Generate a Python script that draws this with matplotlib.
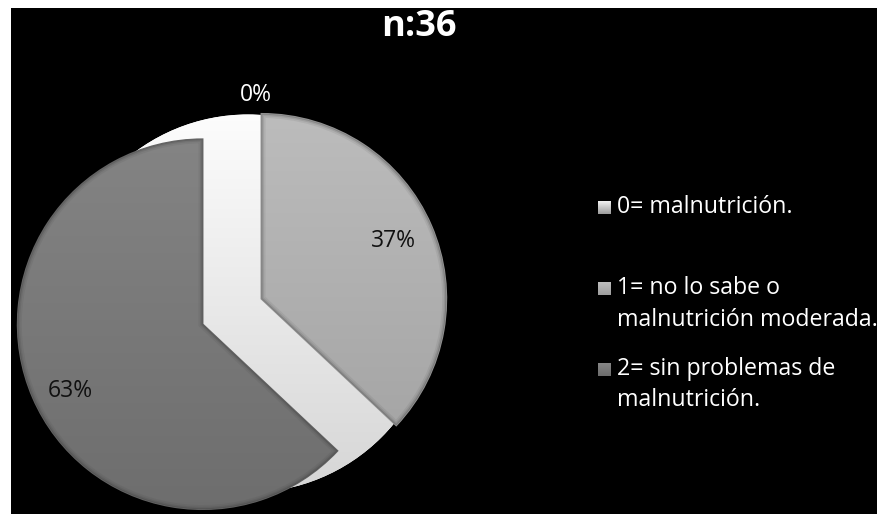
import numpy as np
import matplotlib
matplotlib.use("Agg")
import matplotlib.pyplot as plt
from matplotlib.patches import Rectangle, Circle, Wedge

# ---- data -------------------------------------------------------------
title = "n:36"
categories = [
    "0= malnutrición.",
    "1= no lo sabe o\nmalnutrición moderada.",
    "2= sin problemas de\nmalnutrición.",
]
percentages = [0, 37, 63]

# ---- styling ----------------------------------------------------------
FONT = "Open Sans"
slice_top = ["#ffffff", "#bebebe", "#878787"]
slice_bottom = ["#d4d4d4", "#9e9e9e", "#6c6c6c"]
slice_edge = ["#e0e0e0", "#939393", "#646464"]

W, H = 878, 514
fig = plt.figure(figsize=(W / 100, H / 100), dpi=100, facecolor="white")
ax = fig.add_axes([0, 0, 1, 1])
ax.axis("off")

# black chart panel inside a thin white margin
ax.add_patch(Rectangle((11, 0), W - 11, H - 8, facecolor="black",
                       edgecolor="none", zorder=0))


def gradient_fill(patch, top, bottom, extent, z):
    c0 = np.array(matplotlib.colors.to_rgb(top))
    c1 = np.array(matplotlib.colors.to_rgb(bottom))
    t = np.linspace(0, 1, 256)[:, None, None]
    img = c0 * (1 - t) + c1 * t
    im = ax.imshow(img, extent=extent, origin="upper", aspect="auto",
                   interpolation="bicubic", zorder=z)
    im.set_clip_path(patch)
    return im


cx, cy, R = 232, 202.5, 185
gap = 32  # distance each slice is pulled out from the centre
explode = [0, gap, gap]

# light disk visible through the gap between the separated slices
disk = Circle((cx + 16, cy + 8), 189, facecolor=slice_top[0],
              edgecolor="none", zorder=1)
ax.add_patch(disk)
gradient_fill(disk, slice_top[0], slice_bottom[0],
              (cx - 200, cx + 230, cy - 200, cy + 220), 1.1)

wedges, texts, autotexts = ax.pie(
    percentages, explode=explode, startangle=90, counterclock=False,
    center=(cx, cy), radius=R, autopct="%1.0f%%", pctdistance=0.78,
    colors=slice_top, frame=True,
    wedgeprops=dict(linewidth=1.2),
    textprops=dict(fontfamily=FONT, fontsize=16.5, color="#111111"),
)

for i, w in enumerate(wedges):
    w.set_zorder(2)
    if percentages[i] == 0:
        w.set_visible(False)
        continue
    w.set_edgecolor(slice_edge[i])
    gradient_fill(w, slice_top[i], slice_bottom[i],
                  (cx - R - 80, cx + R + 80, cy - R - 40, cy + R + 40), 2.1)
    # soft bevel along the slice outline
    for lw, a in [(6, 0.08), (3.5, 0.12), (1.5, 0.22)]:
        rim = Wedge(w.center, w.r, w.theta1, w.theta2, facecolor="none",
                    edgecolor="#2e2e2e", linewidth=lw, alpha=a, zorder=2.2)
        rim.set_clip_path(w)
        ax.add_patch(rim)

for t in autotexts:
    t.set_zorder(5)

# zero-size slice label sits above the pie
zero = autotexts[0]
zero.set_position((cx + 0.13 * R, cy + 1.17 * R))
zero.set_color("white")

# larger slice label sits a little lower along its slice
x63, y63 = autotexts[2].get_position()
autotexts[2].set_position((x63, y63 - 9))

# title
ax.text(419, 478, title, ha="center", va="baseline", fontfamily=FONT,
        fontweight="bold", fontsize=26, color="white", zorder=5)

# legend
baselines = [301, 220, 139]
line_gap = 31.5
for i, label in enumerate(categories):
    y0 = baselines[i]
    sq = Rectangle((598, y0 - 1), 13, 13, facecolor=slice_top[i],
                   edgecolor="none", zorder=4)
    ax.add_patch(sq)
    gradient_fill(sq, slice_top[i] if i else "#f4f4f4",
                  slice_bottom[i] if i else "#9a9a9a",
                  (598, 611, y0 - 1, y0 + 12), 4.1)
    for j, line in enumerate(label.split("\n")):
        ax.text(617, y0 - j * line_gap, line, ha="left", va="baseline",
                fontfamily=FONT, fontsize=16.7, color="white", zorder=5)

ax.set_xlim(0, W)
ax.set_ylim(0, H)
ax.set_aspect("equal")
ax.axis("off")

fig.savefig("out.png", dpi=100, facecolor="white")
